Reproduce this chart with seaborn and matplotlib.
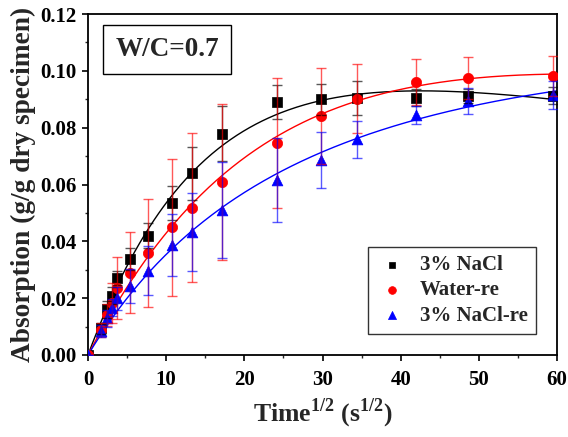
import numpy as np
import pandas as pd
import matplotlib
matplotlib.use("Agg")
import matplotlib.pyplot as plt
import seaborn as sns
from matplotlib.ticker import MultipleLocator, FormatStrFormatter

# ---- data ----
x_vals = [0, 1.62, 2.39, 3.03, 3.75, 5.37, 7.63, 10.7, 13.26, 17.1, 24.2, 29.8, 34.4, 42.0, 48.6, 59.5]

nacl_y   = [0, 0.0094, 0.0161, 0.0208, 0.0272, 0.0338, 0.0420, 0.0534, 0.0639, 0.0779, 0.0891, 0.0900, 0.0903, 0.0906, 0.0911, 0.0913]
nacl_err = [0, 0.0020, 0.0030, 0.0030, 0.0025, 0.0040, 0.0045, 0.0060, 0.0094, 0.0098, 0.0060, 0.0055, 0.0060, 0.0030, 0.0025, 0.0030]

water_y   = [0, 0.0088, 0.0141, 0.0183, 0.0235, 0.0290, 0.0360, 0.0449, 0.0518, 0.0610, 0.0745, 0.0841, 0.0902, 0.0961, 0.0976, 0.0982]
water_err = [0, 0.0025, 0.0040, 0.0070, 0.0110, 0.0143, 0.0190, 0.0240, 0.0262, 0.0275, 0.0229, 0.0170, 0.0122, 0.0081, 0.0074, 0.0070]

naclre_y   = [0, 0.0085, 0.0130, 0.0167, 0.0200, 0.0243, 0.0297, 0.0387, 0.0434, 0.0510, 0.0616, 0.0686, 0.0759, 0.0845, 0.0894, 0.0915]
naclre_err = [0, 0.0020, 0.0030, 0.0030, 0.0040, 0.0060, 0.0085, 0.0110, 0.0137, 0.0170, 0.0147, 0.0100, 0.0064, 0.0033, 0.0047, 0.0050]

series_names = ["3% NaCl", "Water-re", "3% NaCl-re"]
colors = ["black", "red", "blue"]
markers = ["s", "o", "^"]
msizes = [45, 55, 60]

ys = [nacl_y, water_y, naclre_y]
errs = [nacl_err, water_err, naclre_err]

rows = []
for name, y, e in zip(series_names, ys, errs):
    for xi, yi, ei in zip(x_vals, y, e):
        rows.append({"x": xi, "y": yi, "err": ei, "series": name})
df = pd.DataFrame(rows)

# ---- style ----
sns.set_style("ticks")
plt.rcParams["font.family"] = ["Liberation Serif", "DejaVu Serif"]
plt.rcParams["font.weight"] = "bold"
plt.rcParams["mathtext.fontset"] = "custom"
plt.rcParams["mathtext.rm"] = "Liberation Serif:bold"
plt.rcParams["mathtext.bf"] = "Liberation Serif:bold"

fig = plt.figure(figsize=(5.68, 4.37), dpi=100)
ax = fig.add_axes([88/568, 1 - 355/437, (557-88)/568, (355-14)/437])

# fitted curves: rational saturation model y = a x / (1 + b x + c x^2), least squares
xfit = np.linspace(0, 60, 300)
for name, col in zip(series_names, colors):
    sub = df[df.series == name]
    xs = sub["x"].to_numpy()
    yv = sub["y"].to_numpy()
    A = np.column_stack([xs, -xs * yv, -xs**2 * yv])
    a, b, c = np.linalg.lstsq(A, yv, rcond=None)[0]
    fit_df = pd.DataFrame({"x": xfit, "y": a * xfit / (1 + b * xfit + c * xfit**2)})
    sns.lineplot(data=fit_df, x="x", y="y", color=col, lw=1.0, ax=ax, zorder=2)

# markers
for name, col, mk, ms in zip(series_names, colors, markers, msizes):
    sub = df[df.series == name]
    sns.scatterplot(data=sub, x="x", y="y", marker=mk, color=col, s=ms,
                    edgecolor=col, linewidth=0.5, ax=ax, zorder=3, label=name)

# error bars
for name, col in zip(series_names, colors):
    sub = df[df.series == name]
    ax.errorbar(sub["x"], sub["y"], yerr=sub["err"], fmt="none", ecolor=col,
                elinewidth=1.0, capsize=3.5, capthick=1.0, alpha=0.65, zorder=4)

ax.set_xlim(0, 60)
ax.set_ylim(0, 0.12)
ax.xaxis.set_major_locator(MultipleLocator(10))
ax.xaxis.set_minor_locator(MultipleLocator(5))
ax.yaxis.set_major_locator(MultipleLocator(0.02))
ax.yaxis.set_minor_locator(MultipleLocator(0.01))
ax.yaxis.set_major_formatter(FormatStrFormatter("%.2f"))

for s in ax.spines.values():
    s.set_visible(True)
    s.set_linewidth(1.3)
    s.set_color("black")

ax.tick_params(axis="both", which="major", direction="out", length=4.5, width=1.2,
               labelsize=15, colors="black")
ax.tick_params(axis="x", which="major", pad=6)
ax.tick_params(axis="y", which="major", pad=4)
ax.tick_params(axis="both", which="minor", direction="out", length=2.5, width=1.0)
for lab in ax.get_xticklabels() + ax.get_yticklabels():
    lab.set_fontweight("bold")

ax.set_xlabel(r"Time$^{\mathregular{1/2}}$ (s$^{\mathregular{1/2}}$)", fontsize=18.5, fontweight="bold", labelpad=5)
ax.set_ylabel("Absorption (g/g dry specimen)", fontsize=19.7, fontweight="bold", labelpad=3)

ax.text(0.058, 0.896, "W/C=0.7", transform=ax.transAxes, fontsize=19.5, fontweight="bold",
        va="center", ha="left",
        bbox=dict(boxstyle="square,pad=0.45", facecolor="white", edgecolor="black", linewidth=1.0))

leg = ax.legend(loc="lower right", bbox_to_anchor=(0.955, 0.062), borderaxespad=0,
                frameon=True, fancybox=False,
                edgecolor="black", fontsize=15, markerscale=0.75, handletextpad=0.6,
                borderpad=0.4, labelspacing=0.25, handlelength=1.5)
leg.get_frame().set_linewidth(1.0)
for t in leg.get_texts():
    t.set_fontweight("bold")

fig.savefig("out.png", dpi=100)
